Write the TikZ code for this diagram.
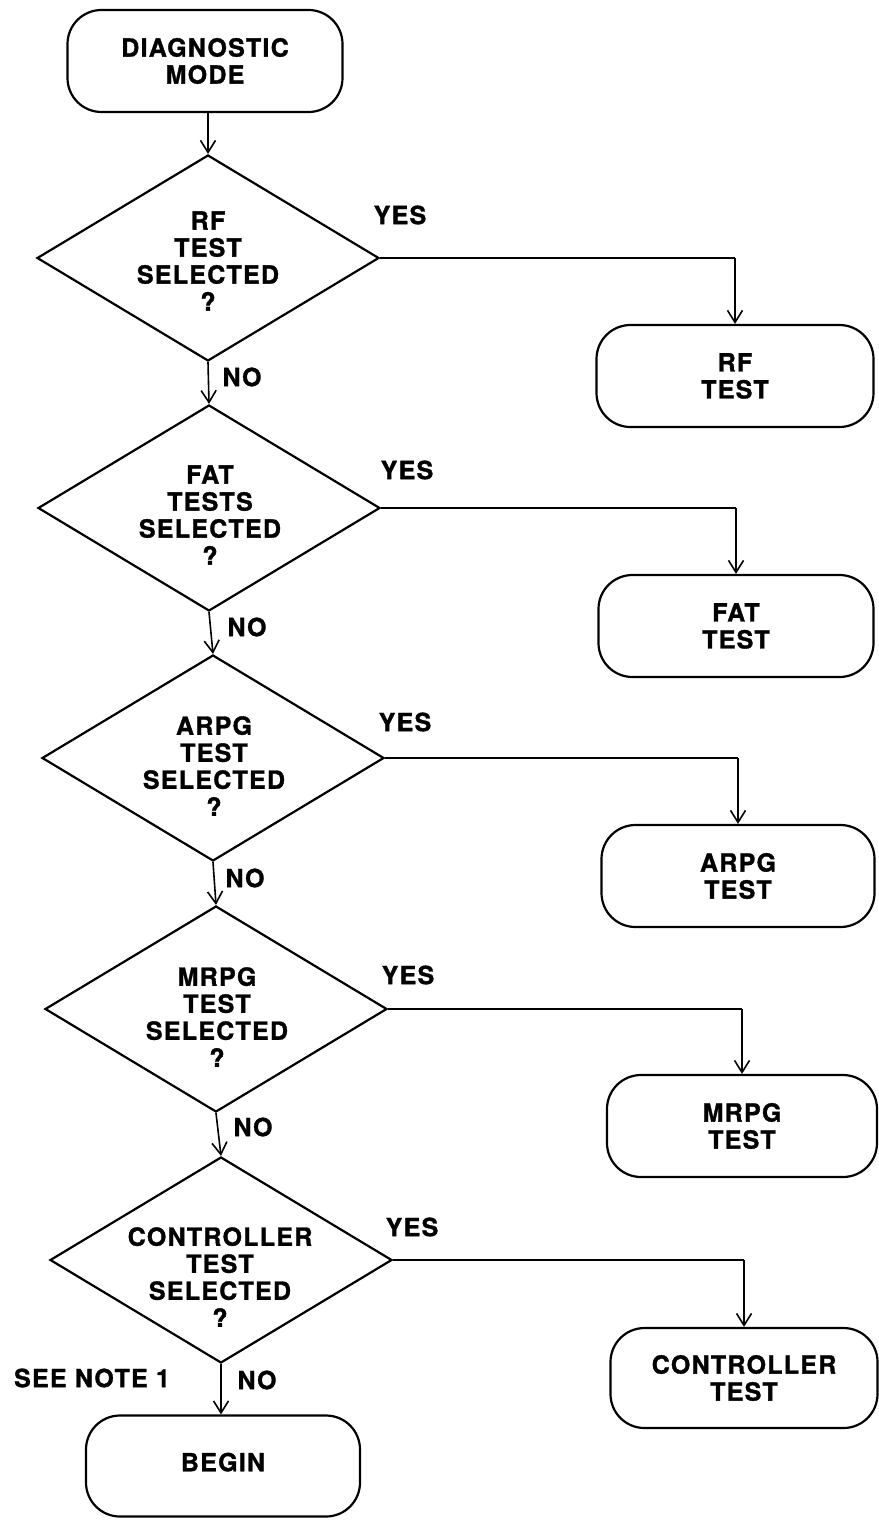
\documentclass[tikz,border=0pt]{standalone}
\usepackage{fontspec}
\setmainfont{TeX Gyre Heros}[LetterSpace=5,FakeBold=1.2]
\usetikzlibrary{shapes.geometric,arrows.meta}
\tikzset{
  x=0.5pt, y=-0.5pt,
  every node/.style={font=\fontsize{12.5pt}{13.5pt}\selectfont\bfseries, align=center},
  dec/.style={diamond, draw, line width=1.1pt, inner sep=0pt, aspect=1.66,
    minimum width=171pt, minimum height=103pt},
  dtext/.style={inner sep=0pt},
  term/.style={draw, line width=1.1pt, rounded corners=17pt, inner sep=0pt,
    minimum height=51pt},
  arr/.style={line width=0.8pt, -{Straight Barb[length=6pt,width=7.5pt,line width=0.8pt]}},
  hline/.style={line width=1.4pt},
  lab/.style={inner sep=0pt}
}
\begin{document}
\begin{tikzpicture}
\useasboundingbox (0,0) rectangle (878,1520);
% start
\node[term, minimum width=137.5pt] (start) at (205,61) {DIAGNOSTIC\\MODE};
% decisions
\node[dec] (d1) at (208,258) {};
\node[dec] (d2) at (209,508) {};
\node[dec] (d3) at (213,758) {};
\node[dec] (d4) at (216,1009) {};
\node[dec] (d5) at (221,1260) {};
\node[dtext] (t1) at (208,261) {RF\\TEST\\SELECTED\\?};
\node[dtext] (t2) at (210,515) {FAT\\TESTS\\SELECTED\\?};
\node[dtext] (t3) at (214,766) {ARPG\\TEST\\SELECTED\\?};
\node[dtext] (t4) at (217,1017) {MRPG\\TEST\\SELECTED\\?};
\node[dtext] (t5) at (220,1277) {CONTROLLER\\TEST\\SELECTED\\?};
% tests
\node[term, minimum width=138.5pt] (b1) at (735,376) {RF\\TEST};
\node[term, minimum width=137.5pt] (b2) at (736,626) {FAT\\TEST};
\node[term, minimum width=136.5pt] (b3) at (738,876) {ARPG\\TEST};
\node[term, minimum width=135pt] (b4) at (742,1126) {MRPG\\TEST};
\node[term, minimum width=133.5pt, minimum height=50pt] (b5) at (744,1378) {CONTROLLER\\TEST};
\node[term, minimum width=137pt, minimum height=50.5pt] (begin) at (223,1466) {\raisebox{4pt}{BEGIN}};
% corners
\coordinate (c1) at (d1.east -| b1.north);
\coordinate (c2) at (d2.east -| b2.north);
\coordinate (c3) at (d3.east -| b3.north);
\coordinate (c4) at (d4.east -| b4.north);
\coordinate (c5) at (d5.east -| b5.north);
% main flow
\draw[arr] (start.south -| d1.north) -- (d1.north);
\draw[arr] (d1.south) -- (d2.north);
\draw[arr] (d2.south) -- (d3.north);
\draw[arr] (d3.south) -- (d4.north);
\draw[arr] (d4.south) -- (d5.north);
\draw[arr] (d5.south) -- (begin.north -| d5.south);
% yes branches
\draw[hline] (d1.east) -- (c1);
\draw[arr] (c1) -- (b1.north);
\draw[hline] (d2.east) -- (c2);
\draw[arr] (c2) -- (b2.north);
\draw[hline] (d3.east) -- (c3);
\draw[arr] (c3) -- (b3.north);
\draw[hline] (d4.east) -- (c4);
\draw[arr] (c4) -- (b4.north);
\draw[hline] (d5.east) -- (c5);
\draw[arr] (c5) -- (b5.north);
% labels
\node[lab] (y1) at (400,215) {YES};
\node[lab] (y2) at (407,470) {YES};
\node[lab] (y3) at (405,722) {YES};
\node[lab] (y4) at (408,975) {YES};
\node[lab] (y5) at (412,1227) {YES};
\node[lab] (n1) at (242,377) {NO};
\node[lab] (n2) at (247,627) {NO};
\node[lab] (n3) at (245,878) {NO};
\node[lab] (n4) at (253,1127) {NO};
\node[lab] (n5) at (257,1380) {NO};
\node[lab] (note) at (92,1378) {SEE NOTE 1};
\end{tikzpicture}
\end{document}
